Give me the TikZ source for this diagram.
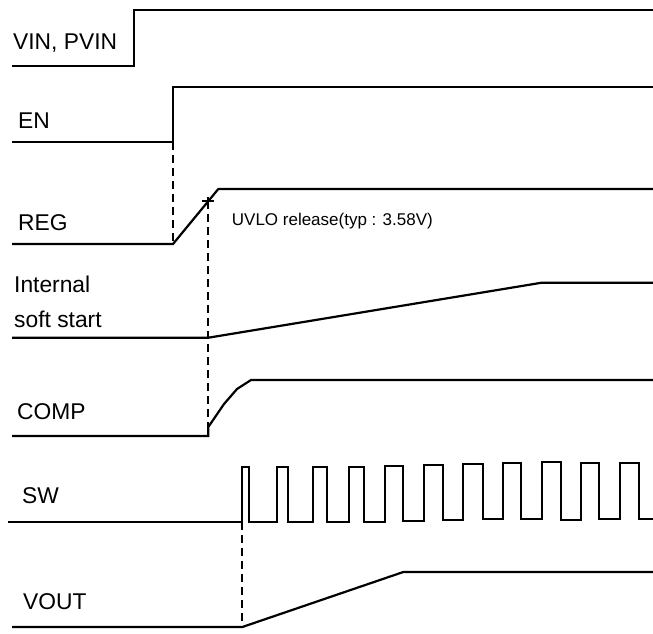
\documentclass[tikz,border=0pt]{standalone}
\usepackage{fontspec}
\setmainfont{Liberation Sans}

\begin{document}
\begin{tikzpicture}[
  x=1pt, y=-1pt,
  sig/.style={line width=2.2pt, line join=miter},
  guide/.style={line width=2pt, dash pattern=on 8pt off 5pt},
  lbl/.style={anchor=base west, inner sep=0pt, font=\fontsize{22.8}{23}\selectfont},
  note/.style={anchor=base west, inner sep=0pt, font=\fontsize{17}{17}\selectfont},
]
\useasboundingbox (0,0) rectangle (653,633);

% signal names
\node[lbl] (vinlbl) at (13,49) {VIN, PVIN};
\node[lbl] (enlbl) at (18,128) {EN};
\node[lbl] (reglbl) at (18,230) {REG};
\node[lbl] (sslbl) at (14,292) {Internal};
\node[lbl] (sslbl2) at (14,327) {soft start};
\node[lbl] (complbl) at (17,419) {COMP};
\node[lbl] (swlbl) at (22,503) {SW};
\node[lbl] (voutlbl) at (23,609) {VOUT};

% key instants
\coordinate (enrise) at (173,142.3);
\coordinate (regstart) at (173,244);
\coordinate (uvlo) at (208.3,201);
\coordinate (compstart) at (208.3,436);
\coordinate (swrise) at (242.3,522);
\coordinate (voutstart) at (242.3,627);

% waveforms
\draw[sig] (12,65.7) -| (134,10.3) -- (653,10.3);
\draw[sig] (12,142.3) -- (enrise) |- (653,87.3);
\draw[sig] (12,244) -- (regstart) -- (218.3,189) -- (653,189);
\draw[sig] (12,337.7) -- (208.3,337.7) -- (541.7,282.7) -- (653,282.7);
\draw[sig] (12,436) -- (compstart) -- (208.3,427) -- (224,404) -- (237,389) -- (251,380) -- (653,380);
\draw[sig] (8,522)
  \foreach \r/\f/\h/\l in {242.3/249.3/466.7/521.7, 276.7/288.3/466.7/521.7,
    313.3/326.7/467.3/521.7, 349.3/364.3/466.7/521.7, 385.3/403.3/465.7/520.7,
    424/442.7/464.7/520, 463.3/482.7/464/519.3, 502.7/521/463.3/518.7,
    541.7/560.7/462.3/520, 581/599.3/463.3/519, 620/639.3/462.7/519.3}
  { -| (\r,\h) -- (\f,\h) -- (\f,\l) } -- (653,519.3);
\draw[sig] (12,627) -- (voutstart) -- (403.3,572) -- (653,572);

% UVLO marker
\draw[line width=1.8pt] ([xshift=-6pt]uvlo) -- ([xshift=6pt]uvlo)
  ([yshift=-4pt]uvlo) -- ([yshift=4pt]uvlo);
\node[note] (uvlolbl) at (231.7,225) {UVLO release(typ : 3.58V)};

% timing guides
\draw[guide] (enrise) -- (regstart);
\draw[guide] (uvlo) -- (compstart);
\draw[guide] (swrise) -- (voutstart);
\end{tikzpicture}
\end{document}
